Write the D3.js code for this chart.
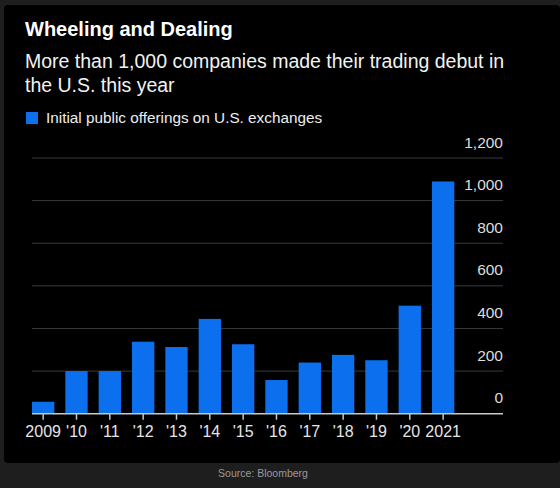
<!DOCTYPE html>
<html><head><meta charset="utf-8">
<script src="https://cdn.jsdelivr.net/npm/d3@7"></script>
<style>html,body{margin:0;padding:0;background:#1e1e1e;}svg{display:block;}</style>
</head><body>
<script>
const years = ["2009","'10","'11","'12","'13","'14","'15","'16","'17","'18","'19","'20","2021"];
const ipos = [56, 200, 200, 338, 313, 445, 326, 158, 240, 276, 251, 507, 1090];
const yTicks = [0, 200, 400, 600, 800, 1000, 1200];

const W = 560, H = 488;
const svg = d3.select("body").append("svg").attr("width", W).attr("height", H);
svg.append("rect").attr("width", W).attr("height", H).attr("fill", "#1e1e1e");
svg.append("rect").attr("x", 4).attr("y", 5).attr("width", 556).attr("height", 458).attr("rx", 4).attr("fill", "#000");

const font = "'Liberation Sans', Arial, Helvetica, sans-serif";

svg.append("text").attr("x", 25).attr("y", 36).attr("fill", "#fff")
  .attr("font-family", font).attr("font-weight", "bold").attr("font-size", 20)
  .text("Wheeling and Dealing");
const sub = svg.append("text").attr("fill", "#f2f2f2").attr("font-family", font).attr("font-size", 19.5);
sub.append("tspan").attr("x", 25).attr("y", 68).text("More than 1,000 companies made their trading debut in");
sub.append("tspan").attr("x", 25).attr("y", 92).text("the U.S. this year");

svg.append("rect").attr("x", 26).attr("y", 112).attr("width", 12).attr("height", 12).attr("fill", "#0b6fee");
svg.append("text").attr("x", 46).attr("y", 123).attr("fill", "#eee").attr("font-family", font).attr("font-size", 15.3)
  .text("Initial public offerings on U.S. exchanges");

const x = d3.scaleBand().domain(years).range([32, 454.3]).paddingInner(0.33).paddingOuter(0);
const y = d3.scaleLinear().domain([0, 1200]).range([413.7, 158]);

// gridlines
const grid = svg.append("g");
grid.selectAll("line").data(yTicks.filter(d => d > 0)).join("line")
  .attr("x1", 32).attr("x2", 503).attr("y1", d => y(d)).attr("y2", d => y(d))
  .attr("stroke", "#3a3a3a").attr("stroke-width", 1);

// y labels
const yAxis = d3.axisRight(y).tickValues(yTicks).tickSize(0).tickFormat(d3.format(","));
const ya = svg.append("g").attr("transform", "translate(503,0)").call(yAxis);
ya.select(".domain").remove();
ya.selectAll("text").attr("x", 0).attr("dy", -11).attr("text-anchor", "end")
  .attr("fill", "#ddd").attr("font-family", font).attr("font-size", 15.5);

// bars
svg.append("g").selectAll("rect").data(ipos).join("rect")
  .attr("x", (d, i) => x(years[i])).attr("width", x.bandwidth())
  .attr("y", d => y(d)).attr("height", d => y(0) - y(d))
  .attr("fill", "#0b6fee");

// baseline
svg.append("line").attr("x1", 32).attr("x2", 503).attr("y1", y(0)).attr("y2", y(0))
  .attr("stroke", "#c8c8c8").attr("stroke-width", 1.5);

// x axis
const xAxis = d3.axisBottom(x).tickSize(6).tickPadding(6);
const xa = svg.append("g").attr("transform", `translate(0,${y(0)})`).call(xAxis);
xa.select(".domain").remove();
xa.selectAll(".tick line").attr("stroke", "#c8c8c8").attr("stroke-width", 1.5);
xa.selectAll("text").attr("fill", "#e6e6e6").attr("font-family", font).attr("font-size", 16);

svg.append("text").attr("x", 263).attr("y", 477).attr("text-anchor", "middle")
  .attr("fill", "#9a9a9a").attr("font-family", font).attr("font-size", 10.5).text("Source: Bloomberg");
</script>
</body></html>
